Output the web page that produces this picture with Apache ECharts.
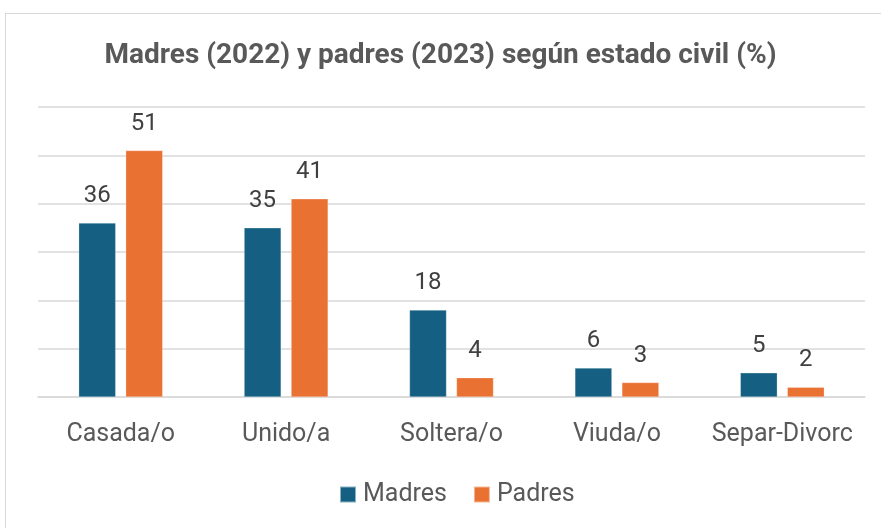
<!DOCTYPE html>
<html>
<head>
<meta charset="utf-8">
<script src="https://cdn.jsdelivr.net/npm/echarts@6/dist/echarts.min.js"></script>
<style>
  html, body { margin: 0; padding: 0; background: #fff; }
  #wrap { position: relative; width: 881px; height: 528px; overflow: hidden; }
  #frame {
    position: absolute; left: 5px; top: 13px;
    width: 1000px; height: 700px;
    border: 1px solid #d9d9d9; box-sizing: border-box;
  }
  #main { position: absolute; left: 0; top: 0; width: 881px; height: 528px; }
</style>
</head>
<body>
<div id="wrap">
  <div id="frame"></div>
  <div id="main"></div>
</div>
<script>
// categorías y valores (%)
const categorias = ["Casada/o", "Unido/a", "Soltera/o", "Viuda/o", "Separ-Divorc"];
const madres = [36, 35, 18, 6, 5];
const padres = [51, 41, 4, 3, 2];

const chart = echarts.init(document.getElementById("main"));

const labelStyle = {
  show: true,
  position: "top",
  distance: 15,
  fontFamily: "Roboto",
  fontSize: 24,
  color: "#404040",
};

const option = {
  animation: false,
  title: {
    text: "Madres (2022) y padres (2023) según estado civil (%)",
    left: "center",
    top: 37,
    textStyle: {
      fontFamily: "Roboto",
      fontWeight: "bold",
      fontSize: 28,
      color: "#595959",
    },
  },
  legend: {
    bottom: 16,
    left: 334,
    itemWidth: 16,
    itemHeight: 16,
    itemGap: 26,
    icon: "rect",
    textStyle: {
      fontFamily: "Roboto",
      fontSize: 25,
      color: "#595959",
      padding: [0, 0, 0, 2],
    },
    data: ["Madres", "Padres"],
  },
  grid: {
    left: 38,
    right: 16,
    top: 107,
    bottom: 131,
    containLabel: false,
  },
  xAxis: {
    type: "category",
    data: categorias,
    axisTick: { show: false },
    axisLine: { lineStyle: { color: "#d9d9d9", width: 1.5 } },
    axisLabel: {
      interval: 0,
      margin: 25,
      fontFamily: "Roboto",
      fontSize: 25,
      color: "#595959",
    },
  },
  yAxis: {
    type: "value",
    min: 0,
    max: 60,
    interval: 10,
    axisLabel: { show: false },
    axisLine: { show: false },
    axisTick: { show: false },
    splitLine: { lineStyle: { color: "#d9d9d9", width: 1.5 } },
  },
  series: [
    {
      name: "Madres",
      type: "bar",
      data: madres,
      barWidth: 37,
      barGap: "27%",
      itemStyle: { color: "#156082", borderColor: "rgba(255,255,255,0.5)", borderWidth: 0.5 },
      label: labelStyle,
    },
    {
      name: "Padres",
      type: "bar",
      data: padres,
      barWidth: 37,
      barGap: "27%",
      itemStyle: { color: "#E97132", borderColor: "rgba(255,255,255,0.5)", borderWidth: 0.5 },
      label: labelStyle,
    },
  ],
};

chart.setOption(option);
</script>
</body>
</html>
